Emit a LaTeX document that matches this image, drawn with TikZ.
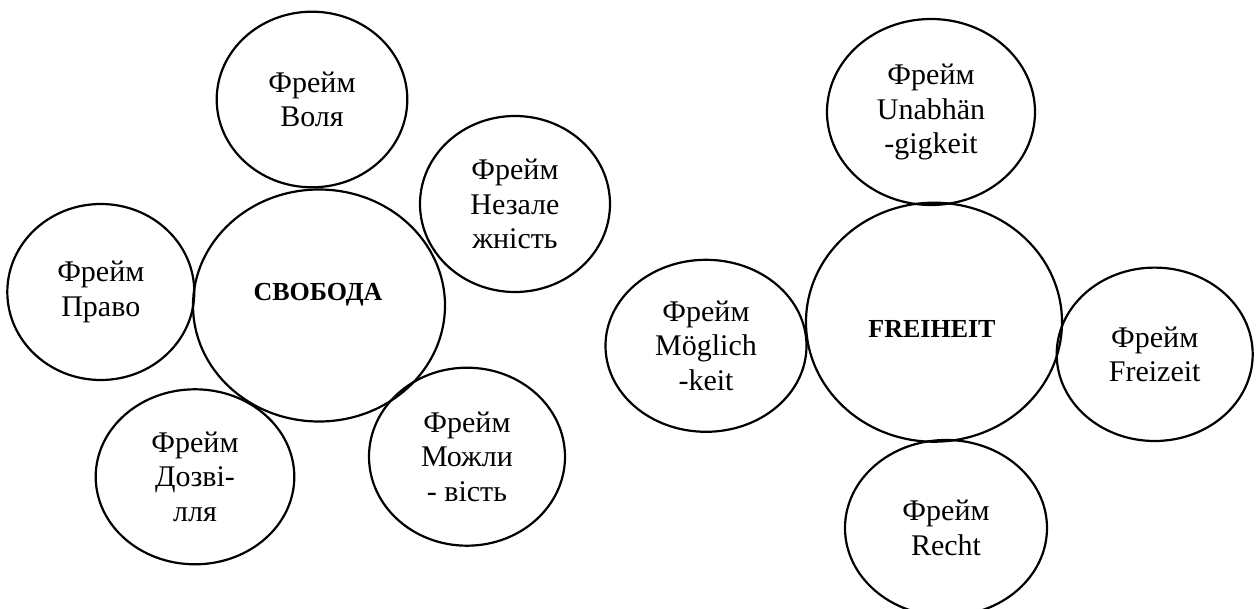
\documentclass[tikz,border=0pt]{standalone}
\usepackage{fontspec}
\setmainfont{Liberation Serif}
\usetikzlibrary{shapes.geometric}
\tikzset{
  frame/.style={draw, ellipse, line width=1.1pt, inner sep=0pt, outer sep=0pt,
    align=center, font=\fontsize{15pt}{17.3pt}\selectfont},
  core/.style={draw, ellipse, line width=1.1pt, inner sep=0pt, outer sep=0pt},
  coretext/.style={anchor=base, inner sep=0pt, font=\fontsize{13pt}{15pt}\selectfont\bfseries}
}
\begin{document}
\begin{tikzpicture}[x=0.5pt,y=-0.5pt]
\useasboundingbox (0,0) rectangle (1259,609);
% left group
\node[core, minimum width=126pt, minimum height=116pt] (svoboda) at (319,305.5) {};
\node[coretext] (svobodat) at (318,301) {СВОБОДА};
\node[frame, minimum width=95.3pt, minimum height=87.8pt] (volia) at (312,99.5) {Фрейм\\Воля};
\node[frame, minimum width=95pt, minimum height=88pt] (nezal) at (515,204) {Фрейм\\Незале\\жність};
\node[frame, minimum width=93.5pt, minimum height=88pt] (pravo) at (100.8,292) {Фрейм\\Право};
\node[frame, minimum width=99.3pt, minimum height=87.5pt] (dozv) at (195,476.8) {Фрейм\\Дозві-\\лля};
\node[frame, minimum width=98pt, minimum height=89pt] (mozh) at (467,456.7) {Фрейм\\Можли\\- вість};
% right group
\node[core, minimum width=128pt, minimum height=119.5pt] (freiheit) at (934,322.2) {};
\node[coretext] (freiheitt) at (932,338) {FREIHEIT};
\node[frame, minimum width=104pt, minimum height=93pt] (unab) at (931,112) {Фрейм\\Unabhän\\-gigkeit};
\node[frame, minimum width=100.5pt, minimum height=86pt] (mogl) at (706,345.8) {Фрейм\\Möglich\\-keit};
\node[frame, minimum width=98pt, minimum height=86.7pt] (freiz) at (1154.7,354.3) {Фрейм\\Freizeit};
\node[frame, minimum width=101pt, minimum height=88pt] (recht) at (946,528) {Фрейм\\Recht};
\end{tikzpicture}
\end{document}
